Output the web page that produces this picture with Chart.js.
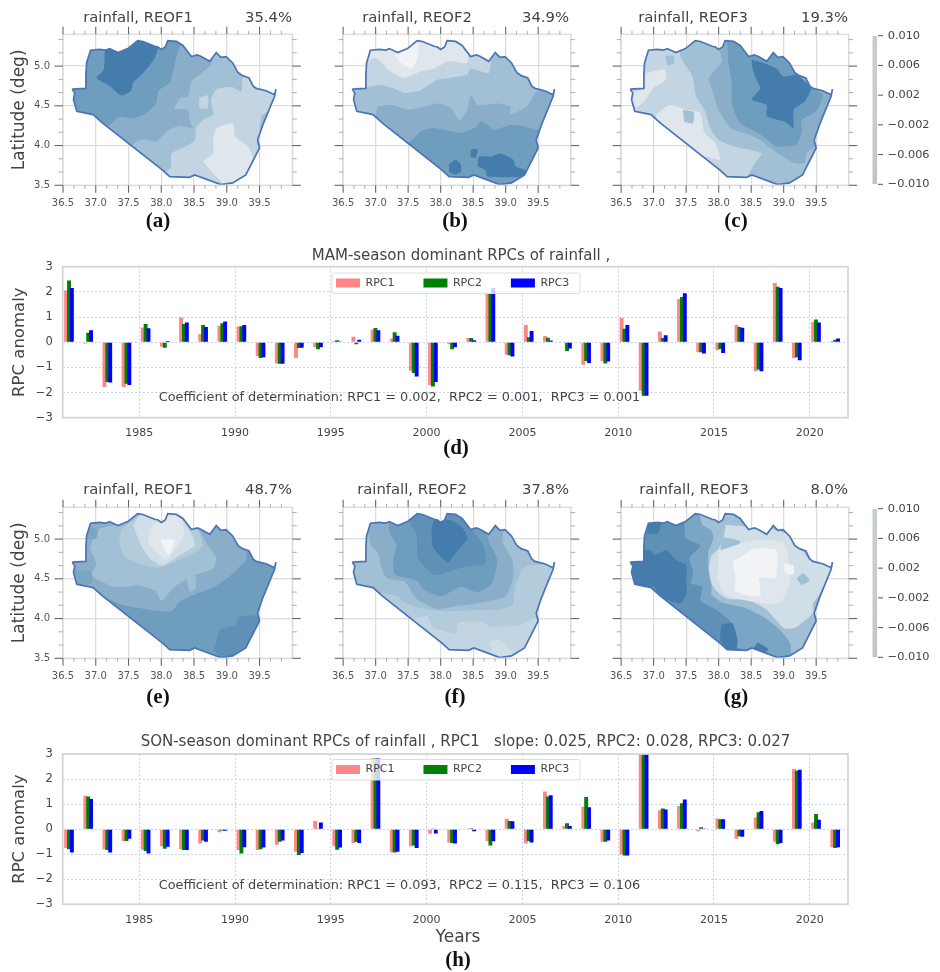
<!DOCTYPE html>
<html><head><meta charset="utf-8">
<script src="https://cdn.jsdelivr.net/npm/chart.js@4"></script>
<style>
html,body{margin:0;padding:0;background:#fff;width:940px;height:972px;overflow:hidden}
#page{position:relative;width:940px;height:972px}
canvas{position:absolute;filter:blur(.4px)}
</style></head><body><div id="page"></div>
<script>
const years=[1981,1982,1983,1984,1985,1986,1987,1988,1989,1990,1991,1992,1993,1994,1995,1996,1997,1998,1999,2000,2001,2002,2003,2004,2005,2006,2007,2008,2009,2010,2011,2012,2013,2014,2015,2016,2017,2018,2019,2020,2021];
const mamRpc1=[2.05,-0.05,-1.78,-1.78,0.58,-0.18,0.98,0.33,0.65,0.62,-0.55,-0.85,-0.63,-0.2,0.05,0.22,0.5,0.15,-1.13,-1.7,-0.08,0.17,1.95,-0.5,0.68,0.25,0,-0.9,-0.75,0.97,-1.93,0.43,1.72,-0.4,-0.32,0.68,-1.15,2.35,-0.63,0.8,0.05];
const mamRpc2=[2.45,0.38,-1.58,-1.65,0.72,-0.22,0.72,0.68,0.75,0.63,-0.63,-0.86,-0.23,-0.28,0.08,-0.08,0.56,0.4,-1.22,-1.76,-0.28,0.17,1.95,-0.52,0.2,0.18,-0.35,-0.75,-0.85,0.53,-2.13,0.17,1.8,-0.4,-0.27,0.6,-1.08,2.2,-0.6,0.9,0.1];
const mamRpc3=[2.15,0.47,-1.6,-1.7,0.55,0.05,0.78,0.6,0.82,0.68,-0.6,-0.86,-0.22,-0.2,0.03,0.1,0.47,0.26,-1.36,-1.58,-0.2,0.08,2.15,-0.57,0.45,0.07,-0.25,-0.83,-0.77,0.68,-2.13,0.28,1.95,-0.45,-0.43,0.57,-1.15,2.15,-0.72,0.78,0.15];
const sonRpc1=[-0.75,1.33,-0.8,-0.47,-0.82,-0.68,-0.8,-0.57,-0.12,-0.83,-0.83,-0.62,-0.9,0.33,-0.68,-0.55,2.82,-0.92,-0.68,-0.18,-0.53,0.03,-0.47,0.42,-0.57,1.5,0.13,0.9,-0.5,-1.0,3.2,0.75,0.92,-0.08,0.43,-0.38,0.47,-0.5,2.4,0.27,-0.72];
const sonRpc2=[-0.8,1.3,-0.83,-0.47,-0.87,-0.78,-0.83,-0.45,-0.05,-0.97,-0.8,-0.5,-1.03,0.03,-0.82,-0.5,2.82,-0.93,-0.65,0.03,-0.55,0.04,-0.65,0.33,-0.47,1.3,0.24,1.28,-0.5,-1.05,3.2,0.82,1.03,0.08,0.4,-0.28,0.67,-0.6,2.33,0.6,-0.75];
const sonRpc3=[-0.93,1.2,-0.93,-0.38,-0.97,-0.7,-0.83,-0.5,-0.06,-0.72,-0.73,-0.45,-0.95,0.27,-0.73,-0.55,2.82,-0.9,-0.75,-0.17,-0.57,-0.08,-0.48,0.32,-0.53,1.35,0.13,0.87,-0.45,-1.05,3.2,0.78,1.18,0.03,0.4,-0.3,0.72,-0.55,2.37,0.38,-0.72];
const lonTicks=[36.5,37,37.5,38,38.5,39,39.5];
const latTicks=[3.5,4,4.5,5];
const barYears=[1985,1990,1995,2000,2005,2010,2015,2020];
const cbarTicks=[0.01,0.006,0.002,-0.002,-0.006,-0.01];
const legendNames=['RPC1','RPC2','RPC3'];

const outline=[[36.64,4.71],[36.84,4.72],[36.85,4.9],[36.86,5.04],[36.92,5.2],[37.06,5.21],[37.15,5.2],[37.21,5.22],[37.34,5.17],[37.49,5.22],[37.64,5.32],[37.72,5.31],[37.9,5.25],[37.95,5.24],[38.0,5.21],[38.06,5.24],[38.1,5.32],[38.23,5.31],[38.33,5.26],[38.46,5.12],[38.55,5.14],[38.61,5.12],[38.74,5.06],[38.84,5.17],[38.91,5.11],[38.99,5.12],[39.09,5.04],[39.17,4.92],[39.24,4.88],[39.34,4.85],[39.4,4.75],[39.45,4.72],[39.6,4.69],[39.73,4.64],[39.75,4.71],[39.73,4.62],[39.55,4.26],[39.47,4.07],[39.5,3.97],[39.29,3.63],[39.09,3.53],[38.91,3.51],[38.51,3.63],[38.43,3.6],[38.13,3.61],[38.02,3.69],[37.11,4.28],[36.96,4.39],[36.71,4.43],[36.66,4.58],[36.68,4.66]];

const palette=['#f1f3f5','#dfe7ed','#d0dee8','#c3d5e2','#b3ccdc','#a1bfd5','#8aaec9','#7ba5c4','#6f9dbe','#5f90b5','#447cab'];

const mapA=[{level:3,path:outline},
{level:5,path:[[39.35,5.5],[39.35,5.08],[39.24,4.85],[39.22,4.68],[39.07,4.74],[38.84,4.71],[38.76,4.58],[38.79,4.39],[38.63,4.32],[38.53,4.22],[38.51,4.07],[38.38,3.99],[38.15,3.9],[38.15,3.74],[38.02,3.61],[37.97,3.4],[36.4,3.4],[36.4,5.5]]},
{level:6,path:[[38.79,5.5],[38.79,5.12],[38.76,5.02],[38.58,4.89],[38.46,4.81],[38.41,4.62],[38.3,4.6],[38.2,4.47],[38.41,4.45],[38.43,4.32],[38.48,4.22],[38.28,4.25],[38.1,4.19],[37.92,4.05],[37.72,4.08],[37.59,4.03],[37.47,3.95],[36.4,3.95],[36.4,5.5]]},
{level:8,path:[[38.3,5.5],[38.3,5.29],[38.23,5.12],[38.18,4.93],[38.13,4.79],[37.96,4.69],[37.92,4.53],[37.77,4.41],[37.57,4.34],[37.36,4.36],[37.21,4.26],[37.11,4.22],[36.4,4.22],[36.4,5.5]]},
{level:10,path:[[37.14,5.21],[37.12,4.95],[37.01,4.85],[37.21,4.75],[37.39,4.63],[37.54,4.69],[37.57,4.79],[37.74,4.93],[37.9,5.1],[37.95,5.27],[37.64,5.37],[37.21,5.29]]},
{level:1,path:[[38.63,3.8],[38.79,3.9],[38.79,4.05],[38.84,4.22],[39.09,4.28],[39.13,4.11],[39.32,3.99],[39.4,3.84],[39.32,3.61],[39.04,3.46],[38.84,3.61]]},
{level:3,path:[[38.58,4.6],[38.71,4.63],[38.71,4.47],[38.58,4.47]]},
{level:5,path:[[39.53,4.38],[39.7,4.45],[39.6,4.15],[39.52,4.15],[39.5,4.25]]}];

const mapB=[{level:1,path:outline},
{level:3,path:[[36.84,5.06],[37.02,5.1],[37.2,4.95],[37.42,4.85],[37.68,4.93],[37.91,4.97],[38.11,5.06],[38.41,5.04],[38.44,5.21],[38.72,5.42],[39.83,5.42],[39.83,3.3],[36.4,3.3],[36.4,5.06]]},
{level:5,path:[[36.4,4.72],[36.87,4.74],[37.09,4.76],[37.27,4.72],[37.45,4.66],[37.7,4.7],[37.96,4.83],[38.13,4.85],[38.41,4.89],[38.46,4.97],[38.74,4.91],[38.77,5.04],[38.82,5.21],[39.02,5.29],[39.83,5.29],[39.83,3.3],[36.4,3.3]]},
{level:6,path:[[36.98,3.3],[37.0,4.37],[37.04,4.49],[37.25,4.51],[37.5,4.45],[37.75,4.49],[37.96,4.53],[38.16,4.47],[38.29,4.32],[38.41,4.45],[38.46,4.64],[38.57,4.51],[38.87,4.53],[39.07,4.49],[39.07,4.39],[39.33,4.49],[39.48,4.68],[39.73,4.72],[39.83,4.72],[39.83,3.3]]},
{level:8,path:[[36.9,3.3],[37.4,4.0],[37.53,4.05],[37.7,4.18],[37.86,4.22],[38.06,4.2],[38.31,4.16],[38.52,4.22],[38.62,4.3],[38.72,4.26],[38.82,4.2],[39.07,4.26],[39.28,4.24],[39.48,4.2],[39.83,4.2],[39.83,3.3]]},
{level:10,path:[[38.13,3.67],[38.13,3.76],[38.23,3.82],[38.31,3.76],[38.31,3.67],[38.21,3.63]]},
{level:10,path:[[38.57,3.74],[38.59,3.86],[38.77,3.86],[38.92,3.9],[39.12,3.82],[39.15,3.74],[39.3,3.69],[39.27,3.61],[38.72,3.61],[38.69,3.69]]},
{level:10,path:[[38.46,3.86],[38.47,3.95],[38.57,3.95],[38.54,3.84]]},
{level:0,path:[[37.3,5.16],[37.65,5.29],[37.65,5.12],[37.55,4.97],[37.35,5.06]]}];

const mapC=[{level:3,path:outline},
{level:1,path:[[37.04,4.39],[37.24,4.51],[37.52,4.45],[37.72,4.41],[37.78,4.16],[37.95,4.03],[38.02,3.82],[37.83,3.86],[37.52,3.86],[37.04,4.26]]},
{level:1,path:[[36.88,4.91],[37.17,4.96],[37.19,4.83],[36.99,4.72],[36.88,4.58],[36.73,4.48],[36.65,4.66],[36.83,4.7]]},
{level:5,path:[[37.39,5.5],[37.39,5.25],[37.42,5.1],[37.6,4.87],[37.65,4.62],[37.78,4.45],[37.87,4.22],[38.0,4.07],[38.23,3.99],[38.66,3.9],[38.56,3.78],[38.46,3.63],[38.44,3.44],[40.0,3.44],[40.0,5.5]]},
{level:6,path:[[38.0,5.5],[38.0,5.25],[38.05,5.06],[37.85,4.85],[37.9,4.7],[38.0,4.45],[38.18,4.22],[38.38,4.16],[38.64,4.07],[38.94,3.88],[39.17,3.78],[39.32,3.78],[39.35,3.9],[39.5,3.99],[39.8,3.99],[39.8,5.5]]},
{level:8,path:[[38.13,5.33],[38.15,5.04],[38.2,4.79],[38.2,4.53],[38.3,4.32],[38.41,4.24],[38.66,4.13],[38.89,3.99],[39.19,4.01],[39.28,4.18],[39.27,4.32],[39.5,4.43],[39.6,4.64],[39.4,4.73],[39.2,4.89],[39.02,5.1],[38.54,5.33],[38.3,5.45]]},
{level:10,path:[[38.51,5.08],[38.69,5.04],[38.89,4.97],[38.99,4.87],[39.2,4.89],[39.42,4.72],[39.32,4.55],[39.15,4.45],[39.15,4.22],[39.02,4.3],[38.74,4.37],[38.74,4.51],[38.51,4.58],[38.64,4.72],[38.56,4.87],[38.51,5.0]]},
{level:5,path:[[37.18,5.13],[37.31,5.13],[37.31,5.03],[37.21,5.01]]},
{level:5,path:[[37.45,4.45],[37.62,4.42],[37.6,4.28],[37.47,4.3]]}];

const mapE=[{level:8,path:outline},
{level:9,path:[[38.84,3.69],[38.89,3.86],[39.14,3.92],[39.17,4.02],[39.42,4.04],[39.55,3.98],[39.35,3.6],[39.0,3.48],[38.79,3.6]]},
{level:6,path:[[39.3,5.5],[39.3,4.75],[39.22,4.67],[39.04,4.53],[38.79,4.39],[38.53,4.31],[38.28,4.21],[38.15,4.09],[37.67,4.13],[37.41,4.17],[37.16,4.25],[36.96,4.19],[36.4,4.19],[36.4,5.5]]},
{level:5,path:[[36.91,4.88],[37.01,4.69],[36.93,4.55],[37.26,4.4],[37.47,4.4],[37.67,4.42],[37.92,4.34],[38.0,4.22],[38.2,4.4],[38.46,4.53],[38.79,4.63],[38.84,4.76],[38.71,4.92],[38.58,5.11],[38.43,5.24],[37.82,5.41],[37.57,5.32],[37.31,5.18],[37.06,5.13],[36.96,5.01]]},
{level:4,path:[[37.39,5.13],[37.36,4.97],[37.44,4.78],[37.67,4.69],[37.97,4.64],[38.23,4.72],[38.53,4.84],[38.63,4.92],[38.58,5.07],[38.43,5.2],[38.18,5.39],[37.77,5.36],[37.57,5.24]]},
{level:2,path:[[37.57,5.18],[37.69,4.92],[37.85,4.74],[38.02,4.67],[38.28,4.8],[38.51,4.92],[38.46,5.07],[38.33,5.24],[38.15,5.39],[37.9,5.32],[37.69,5.32]]},
{level:1,path:[[37.85,5.16],[37.8,4.95],[37.95,4.82],[38.08,4.74],[38.25,4.92],[38.35,5.07],[38.3,5.26],[38.13,5.34],[37.97,5.24]]},
{level:0,path:[[37.99,4.99],[38.2,4.99],[38.12,4.8],[38.04,4.88]]},
{level:5,path:[[38.38,4.51],[38.53,4.53],[38.51,4.36],[38.43,4.34]]},
{level:7,path:[[36.87,5.16],[37.03,5.11],[37.0,5.0],[36.88,5.0],[36.86,5.08]]},
{level:7,path:[[36.66,4.61],[36.93,4.59],[36.93,4.44],[36.71,4.42],[36.66,4.52]]}];

const mapF=[{level:3,path:outline},
{level:2,path:[[38.74,3.71],[38.92,3.73],[39.12,3.54],[38.82,3.52]]},
{level:4,path:[[37.6,4.0],[37.8,4.03],[37.88,3.88],[38.01,3.85],[38.24,3.81],[38.27,3.95],[38.62,3.96],[38.77,3.9],[39.23,3.92],[39.43,4.0],[39.73,4.0],[39.9,5.5],[36.4,5.5],[36.4,4.0]]},
{level:5,path:[[37.09,4.32],[37.35,4.28],[37.42,4.21],[37.65,4.14],[37.96,4.1],[38.21,4.09],[38.57,4.11],[38.87,4.11],[39.1,4.17],[39.15,4.42],[39.25,4.61],[39.35,4.67],[39.76,4.7],[39.9,5.5],[36.4,5.5],[36.4,4.32]]},
{level:6,path:[[36.89,5.07],[36.93,4.92],[37.04,4.82],[37.09,4.63],[37.17,4.51],[37.45,4.46],[37.63,4.25],[37.93,4.12],[38.26,4.16],[38.62,4.2],[39.0,4.28],[39.12,4.53],[39.1,4.74],[38.95,4.97],[38.97,5.16],[38.72,5.32],[36.89,5.32]]},
{level:8,path:[[37.2,5.2],[37.22,5.07],[37.32,4.92],[37.27,4.74],[37.3,4.55],[37.63,4.48],[37.75,4.36],[38.01,4.28],[38.31,4.4],[38.57,4.33],[38.79,4.44],[38.87,4.74],[38.74,4.97],[38.69,5.13],[38.52,5.41],[37.2,5.41]]},
{level:9,path:[[37.51,5.22],[37.63,5.05],[37.65,4.76],[37.91,4.55],[38.36,4.65],[38.68,4.69],[38.66,4.92],[38.44,5.15],[38.21,5.36],[37.65,5.36]]},
{level:10,path:[[37.86,5.15],[37.88,4.9],[38.11,4.71],[38.26,4.86],[38.41,5.0],[38.33,5.15],[38.13,5.24],[37.9,5.24]]}];

const mapG=[{level:5,path:outline},
{level:2,path:[[38.11,5.18],[38.39,5.16],[38.65,5.16],[39.15,5.03],[39.4,4.74],[39.76,4.67],[39.55,4.3],[39.45,4.19],[39.45,4.07],[39.17,3.88],[39.0,3.88],[38.74,4.11],[38.46,4.23],[38.13,4.25],[37.95,4.36],[37.85,4.53],[37.88,4.78],[38.0,4.88],[38.08,5.03]]},
{level:5,path:[[38.03,5.03],[38.23,5.0],[38.33,4.97],[38.26,4.88],[38.03,4.87]]},
{level:5,path:[[39.2,4.5],[39.3,4.57],[39.4,4.48],[39.27,4.42]]},
{level:1,path:[[38.0,4.85],[38.5,4.98],[39.0,4.95],[39.1,4.5],[38.95,4.2],[38.6,4.2],[38.1,4.3],[37.98,4.5]]},
{level:0,path:[[38.21,4.72],[38.31,4.76],[38.54,4.88],[38.89,4.86],[38.88,4.51],[38.75,4.51],[38.62,4.51],[38.64,4.28],[38.26,4.34],[38.26,4.53]]},
{level:0,path:[[39.0,4.69],[39.15,4.67],[39.15,4.55],[39.02,4.57]]},
{level:7,path:[[37.7,5.5],[37.7,5.34],[37.75,5.18],[37.88,5.11],[37.92,5.01],[37.84,4.84],[37.84,4.63],[37.89,4.42],[37.89,4.3],[38.06,4.2],[38.39,4.14],[38.69,4.02],[38.94,3.86],[39.1,3.69],[39.11,3.54],[39.05,3.3],[36.3,3.3],[36.3,5.5]]},
{level:9,path:[[37.47,5.5],[37.47,5.28],[37.5,5.01],[37.72,4.92],[37.55,4.76],[37.61,4.59],[37.58,4.44],[37.75,4.4],[37.72,4.23],[38.0,4.09],[38.23,3.92],[38.26,3.65],[38.46,3.58],[38.46,3.3],[36.3,3.3],[36.3,5.5]]},
{level:10,path:[[36.81,4.86],[36.95,4.86],[37.01,4.8],[37.2,4.86],[37.34,4.74],[37.5,4.67],[37.5,4.44],[37.51,4.32],[37.4,4.19],[37.09,4.28],[37.01,4.4],[36.68,4.4],[36.58,4.74],[36.81,4.76]]},
{level:10,path:[[36.92,5.22],[37.12,5.22],[37.07,5.08],[36.9,5.06]]},
{level:10,path:[[38.02,3.73],[38.05,3.92],[38.21,3.94],[38.29,3.73],[38.26,3.58],[38.11,3.58]]},
{level:10,path:[[38.6,3.7],[38.76,3.62],[38.7,3.56],[38.52,3.6]]}];

const page=document.getElementById('page');
const SANS='"DejaVu Sans"', SERIF='"Liberation Serif"';
function addCanvas(l,t,w,h){const c=document.createElement('canvas');c.width=w;c.height=h;c.style.left=l+'px';c.style.top=t+'px';c.style.width=w+'px';c.style.height=h+'px';page.appendChild(c);return c;}
function label(ctx,text,x,y,font,color,align,rot){ctx.save();ctx.font=font;ctx.fillStyle=color;ctx.textAlign=align||'center';ctx.textBaseline='middle';ctx.translate(x,y);if(rot)ctx.rotate(rot);ctx.fillText(text,0,0);ctx.restore();}
const minus=s=>String(s).replace('-','\u2212');

function makeMap(c){
  const W=320,H=235;
  const canvas=addCanvas(c.left,c.top,W,H);
  const ds=c.regions.map((r,i)=>({data:r.path.map(p=>({x:p[0],y:p[1]})),showLine:true,fill:'shape',backgroundColor:palette[r.level],borderWidth:0,pointRadius:0,tension:i===0?0:0.18,order:100-i}));
  ds.push({data:outline.concat([outline[0]]).map(p=>({x:p[0],y:p[1]})),showLine:true,fill:false,borderColor:'#4a74b6',borderWidth:1.7,pointRadius:0,tension:0,order:0});
  const outlineIdx=ds.length-1;
  new Chart(canvas,{type:'scatter',data:{datasets:ds},options:{responsive:false,animation:false,events:[],
    layout:{padding:{top:c.pTop,right:W-c.pRight,left:0,bottom:0}},
    plugins:{legend:{display:false},tooltip:{enabled:false}},
    scales:{
      x:{type:'linear',min:36.5,max:40,afterFit:s=>{s.height=H-c.pBottom;},
        afterBuildTicks:s=>{s.ticks=lonTicks.concat([40]).map(v=>({value:v}));},
        grid:{color:'#dcdcdc',lineWidth:1.3,drawTicks:false},border:{display:false},
        ticks:{callback:v=>v===40?'':v.toFixed(1),autoSkip:false,maxRotation:0,padding:12,color:'#555',font:{family:SANS,size:10}}},
      y:{min:3.5,max:5.4,afterFit:s=>{s.width=c.pLeft;},
        afterBuildTicks:s=>{s.ticks=latTicks.map(v=>({value:v}));},
        grid:{color:'#dcdcdc',lineWidth:1.3,drawTicks:false},border:{display:false},
        title:{display:c.yTitle,text:'Latitude (deg)',color:'#444',font:{family:SANS,size:17},padding:{top:9,bottom:0}},
        ticks:{display:c.yLabels,callback:v=>v.toFixed(1),padding:13,color:'#555',font:{family:SANS,size:10}}}
    }},
    plugins:[{id:'mapFrame',
      beforeDatasetsDraw(ch){const x=ch.scales.x,y=ch.scales.y,g=ch.ctx;g.save();g.beginPath();outline.forEach((p,i)=>{const px=x.getPixelForValue(p[0]),py=y.getPixelForValue(p[1]);i?g.lineTo(px,py):g.moveTo(px,py);});g.closePath();g.clip();},
      beforeDatasetDraw(ch,a){if(a.index===outlineIdx)ch.ctx.restore();},
      afterDraw(ch){const x=ch.scales.x,y=ch.scales.y,g=ch.ctx,A=ch.chartArea;
        g.save();g.strokeStyle='#dcdcdc';g.lineWidth=1.4;g.strokeRect(A.left,A.top,A.right-A.left,A.bottom-A.top);
        const seg=(x1,y1,x2,y2,col,w)=>{g.strokeStyle=col;g.lineWidth=w;g.beginPath();g.moveTo(x1,y1);g.lineTo(x2,y2);g.stroke();};
        for(let k=0;k<=20;k++){const v=36.5+k/6;if(v>39.9)break;const px=x.getPixelForValue(v),maj=k%3===0;
          const t=maj?7.5:3.5,col=maj?'#666':'#999',w=maj?1.1:.8;seg(px,A.top,px,A.top-t,col,w);seg(px,A.bottom,px,A.bottom+t,col,w);}
        for(let k=0;k<=11;k++){const v=3.5+k/6;const py=y.getPixelForValue(v),maj=k%3===0;
          const t=maj?8.5:4.5,col=maj?'#666':'#999',w=maj?1.1:.8;seg(A.left,py,A.left-t,py,col,w);seg(A.right,py,A.right+t,py,col,w);}
        g.restore();
        label(g,c.title,c.titleX-c.left,c.titleY-c.top,'14.8px '+SANS,'#444');
        label(g,c.pct,c.pctX-c.left,c.titleY-c.top,'14.8px '+SANS,'#444','right');
        label(g,c.tag,c.tagX-c.left,c.tagY-c.top,'bold 21px '+SERIF,'#111');
      }}]});
}
const R2=473;
[
{regions:mapA,left:0,top:0,pLeft:63,pRight:292.3,pTop:34.3,pBottom:185.3,yTitle:true,yLabels:true,title:'rainfall, REOF1',titleX:138,titleY:18,pct:'35.4%',pctX:292,tag:'(a)',tagX:158,tagY:222},
{regions:mapB,left:320,top:0,pLeft:21,pRight:250.7,pTop:34.3,pBottom:185.3,yTitle:false,yLabels:false,title:'rainfall, REOF2',titleX:417,titleY:18,pct:'34.9%',pctX:569,tag:'(b)',tagX:455,tagY:222},
{regions:mapC,left:598,top:0,pLeft:21.5,pRight:250.7,pTop:34.3,pBottom:185.3,yTitle:false,yLabels:false,title:'rainfall, REOF3',titleX:693,titleY:18,pct:'19.3%',pctX:848,tag:'(c)',tagX:736,tagY:222},
{regions:mapE,left:0,top:R2,pLeft:63,pRight:292.3,pTop:34.3,pBottom:185.3,yTitle:true,yLabels:true,title:'rainfall, REOF1',titleX:138,titleY:490,pct:'48.7%',pctX:292,tag:'(e)',tagX:158,tagY:698},
{regions:mapF,left:320,top:R2,pLeft:21,pRight:250.7,pTop:34.3,pBottom:185.3,yTitle:false,yLabels:false,title:'rainfall, REOF2',titleX:412,titleY:490,pct:'37.8%',pctX:569,tag:'(f)',tagX:455,tagY:698},
{regions:mapG,left:598,top:R2,pLeft:21.5,pRight:250.7,pTop:34.3,pBottom:185.3,yTitle:false,yLabels:false,title:'rainfall, REOF3',titleX:694,titleY:490,pct:'8.0%',pctX:848,tag:'(g)',tagX:736,tagY:698}
].forEach(makeMap);

function makeCbar(top){
  const W=80,H=180,cv=addCanvas(860,top,W,H);
  new Chart(cv,{type:'bar',data:{labels:['c'],datasets:[{data:[[-0.01,0.01]],barPercentage:1,categoryPercentage:1,borderWidth:0,inflateAmount:0,
    backgroundColor(ctx){const A=ctx.chart.chartArea;if(!A)return '#ccc';const g=ctx.chart.ctx.createLinearGradient(0,A.top,0,A.bottom);g.addColorStop(0,'#c5cdd2');g.addColorStop(.5,'#cbcccc');g.addColorStop(1,'#cac0c0');return g;}}]},
    options:{responsive:false,animation:false,events:[],layout:{padding:{left:12.3,top:15.7,right:0,bottom:H-164.3}},
      plugins:{legend:{display:false},tooltip:{enabled:false}},
      scales:{x:{display:false},y:{position:'right',min:-0.01,max:0.01,afterFit:s=>{s.width=W-17.3;},afterBuildTicks:s=>{s.ticks=cbarTicks.map(v=>({value:v}));},
        grid:{display:false,drawTicks:false},border:{display:false},ticks:{display:false}}}},
    plugins:[{id:'cbarTicks',afterDraw(ch){const g=ch.ctx,y=ch.scales.y,A=ch.chartArea;g.save();g.strokeStyle='#555';g.lineWidth=1;cbarTicks.forEach(v=>{const p=y.getPixelForValue(v);g.beginPath();g.moveTo(A.right+.7,p);g.lineTo(A.right+5.7,p);g.stroke();label(g,minus(v.toFixed(3)),27.7,p,'11.3px '+SANS,'#444','left');});g.restore();}}]});
}
makeCbar(20);makeCbar(493);

const barOffsets=[0.18,0.33,0.48];
const barColors=['rgba(255,60,60,.62)','#008000','#0000ff'];
function makeBars(c){
  const W=940,H=c.height,cv=addCanvas(0,c.top,W,H);
  const ds=c.series.map((vals,i)=>({label:legendNames[i],data:vals.map((v,k)=>({x:years[k]+barOffsets[i],y:v})),backgroundColor:barColors[i],borderWidth:0,barThickness:3.9,grouped:false,inflateAmount:0,order:3-i}));
  const pT=c.plotTop-c.top,pB=c.plotBottom-c.top;
  new Chart(cv,{type:'bar',data:{datasets:ds},options:{responsive:false,animation:false,events:[],
    layout:{padding:{top:pT,right:W-848,left:0,bottom:0}},
    plugins:{tooltip:{enabled:false},legend:{display:true,position:'top',align:'start',labels:{sort:(a,b)=>a.datasetIndex-b.datasetIndex,boxWidth:24,boxHeight:9,padding:29,color:'#444',font:{family:SANS,size:11}}}},
    scales:{
      x:{type:'linear',min:1981,max:2022,offset:false,afterFit:s=>{s.height=H-pB;},afterBuildTicks:s=>{s.ticks=barYears.map(v=>({value:v}));},
        grid:{offset:false,color:'#c6d3ea',lineWidth:1,drawTicks:false},border:{display:false,dash:[2,2]},
        ticks:{callback:v=>String(v),autoSkip:false,maxRotation:0,padding:9,color:'#444',font:{family:SANS,size:11}}},
      y:{min:-3,max:3,afterFit:s=>{s.width=62.7;},afterBuildTicks:s=>{s.ticks=[-3,-2,-1,0,1,2,3].map(v=>({value:v}));},
        grid:{color:'#c6d3ea',lineWidth:1,drawTicks:false},border:{display:false,dash:[2,2]},
        title:{display:true,text:'RPC anomaly',color:'#444',font:{family:SANS,size:16.5},padding:{top:10,bottom:0}},
        ticks:{callback:v=>minus(v),padding:10,color:'#444',font:{family:SANS,size:11.5}}}
    }},
    plugins:[{id:'barFrame',
      beforeLayout(ch){const lg=ch.legend;if(lg&&!lg._fixed){lg._fixed=true;
        const fit=lg.fit;lg.fit=function(){fit.call(this);this.height=0;};
        lg._layers=()=>[{z:5,draw(){const g=ch.ctx;g.save();g.fillStyle='rgba(255,255,255,.8)';g.strokeStyle='#dedede';g.lineWidth=1;g.beginPath();g.roundRect(332,c.legendTop-c.top,248,20.5,2);g.fill();g.stroke();g.restore();lg.draw();}}];}},
      afterLayout(ch){const lg=ch.legend;lg.left=307;lg.right=620;lg.width=313;lg.top=c.legendTop-c.top+4.5-29;lg.bottom=lg.top+100;lg.height=100;},
      beforeDraw(ch){const g=ch.ctx;label(g,c.title,c.titleX,c.titleY-c.top,'15px '+SANS,'#444');},
      afterDraw(ch){const g=ch.ctx,A=ch.chartArea;g.save();g.strokeStyle='#d6d6d6';g.lineWidth=1.8;g.strokeRect(A.left,A.top,A.right-A.left,A.bottom-A.top);g.restore();
        label(g,c.note,158.7,c.noteY-c.top,'12.85px '+SANS,'#444','left');
        if(c.xTitle)label(g,c.xTitle,458,938-c.top,'17px '+SANS,'#444');
        label(g,c.tag,c.tagX,c.tagY-c.top,'bold 21px '+SERIF,'#111');
      }}]});
}
makeBars({top:245,height:215,plotTop:266.7,plotBottom:417.7,series:[mamRpc1,mamRpc2,mamRpc3],legendTop:273,title:'MAM-season dominant RPCs of rainfall ,',titleX:461,titleY:256,note:'Coefficient of determination: RPC1 = 0.002,  RPC2 = 0.001,  RPC3 = 0.001',noteY:397.7,tag:'(d)',tagX:456,tagY:449});
makeBars({top:725,height:247,plotTop:754,plotBottom:904.3,series:[sonRpc1,sonRpc2,sonRpc3],legendTop:759.5,title:'SON-season dominant RPCs of rainfall , RPC1   slope: 0.025, RPC2: 0.028, RPC3: 0.027',titleX:465.5,titleY:741.7,note:'Coefficient of determination: RPC1 = 0.093,  RPC2 = 0.115,  RPC3 = 0.106',noteY:885.3,xTitle:'Years',tag:'(h)',tagX:458,tagY:961});
</script></body></html>
